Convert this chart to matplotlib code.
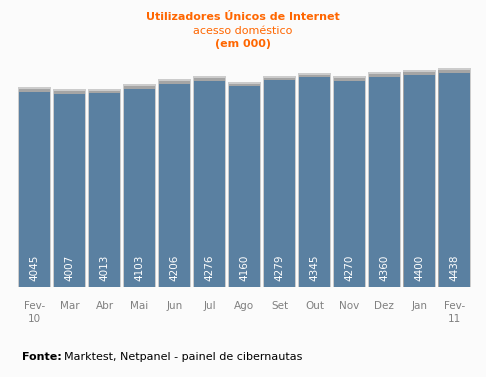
import numpy as np
import matplotlib.pyplot as plt

months = ['Fev-\n10', 'Mar', 'Abr', 'Mai', 'Jun', 'Jul', 'Ago', 'Set', 'Out', 'Nov', 'Dez', 'Jan', 'Fev-\n11']
users = [4045, 4007, 4013, 4103, 4206, 4276, 4160, 4279, 4345, 4270, 4360, 4400, 4438]

bar_color = '#5a80a1'
shadow_color = '#cccccc'
bg = '#fbfbfb'

fig = plt.figure(figsize=(4.86, 3.77), dpi=100, facecolor=bg)
ax = fig.add_axes([0.035, 0.2387, 0.936, 0.589])
ax.set_facecolor(bg)

x = np.arange(len(users))
# soft shadow behind the bars
ax.bar(x, [u + 95 for u in users], width=0.96, color=shadow_color, zorder=1)
ax.bar(x, [u + 55 for u in users], width=0.91, color='#a5a5a5', zorder=1.5)
ax.bar(x, users, width=0.89, color=bar_color, zorder=2)

for xi, u in zip(x, users):
    ax.text(xi, 130, str(u), rotation=90, ha='center', va='bottom',
            color='white', fontsize=7.5, zorder=3)

ax.set_xlim(-0.5, len(users) - 0.5)
ax.set_ylim(0, 4600)
ax.set_xticks(x)
ax.set_xticklabels(months, color='#808080', fontsize=7.5, linespacing=1.45)
ax.tick_params(axis='x', length=0, pad=10)
ax.set_yticks([])
for s in ax.spines.values():
    s.set_visible(False)

fig.text(0.5, 1 - 17 / 377, 'Utilizadores Únicos de Internet', ha='center', va='center',
         color='#ff6600', fontsize=8, fontweight='bold')
fig.text(0.5, 1 - 31 / 377, 'acesso doméstico', ha='center', va='center',
         color='#ff6600', fontsize=8)
fig.text(0.5, 1 - 44 / 377, '(em 000)', ha='center', va='center',
         color='#ff6600', fontsize=8, fontweight='bold')

fig.text(22 / 486, 1 - 357 / 377, 'Fonte:', ha='left', va='center',
         color='black', fontsize=8, fontweight='bold')
fig.text(64 / 486, 1 - 357 / 377, 'Marktest, Netpanel - painel de cibernautas', ha='left', va='center',
         color='black', fontsize=8)

fig.savefig('out.png', dpi=100, facecolor=bg)
